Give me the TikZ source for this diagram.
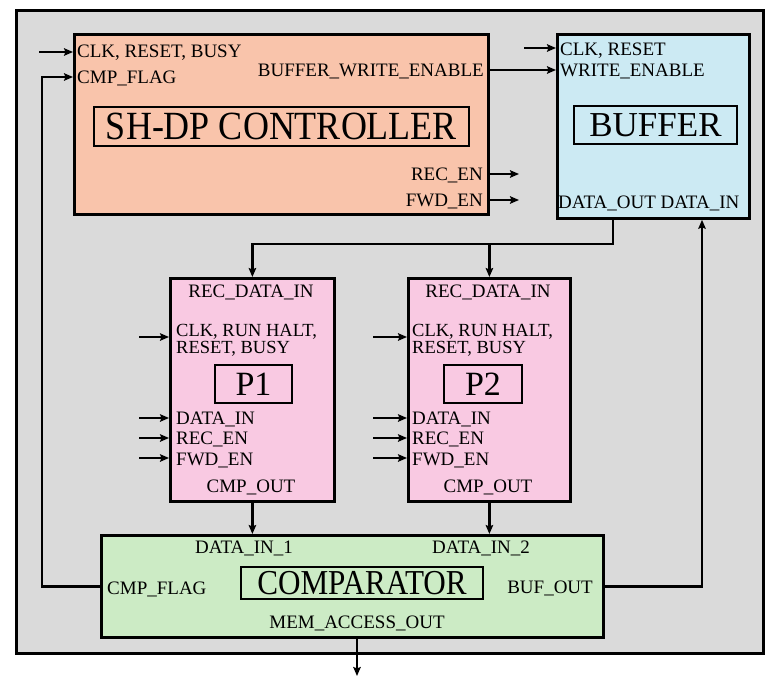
\documentclass[tikz,border=0pt]{standalone}
\usepackage{fontspec}
\usepackage{graphicx}
\setmainfont{Liberation Serif}
\usetikzlibrary{arrows.meta,calc}
\newcommand\smtxt{\fontsize{19}{19}\selectfont}
\newcommand\pstxt{\fontsize{18.5}{18.5}\selectfont}
\definecolor{bggray}{HTML}{DADADA}
\definecolor{ctrlfill}{HTML}{F9C4AB}
\definecolor{buffill}{HTML}{CCEAF3}
\definecolor{pfill}{HTML}{F9C9E2}
\definecolor{cmpfill}{HTML}{CCEBC5}
\tikzset{
  blk/.style={draw=black, line width=2.8pt, rectangle, inner sep=0pt, anchor=north west},
  inbox/.style={draw=black, line width=1.4pt, rectangle, inner sep=0pt},
  lbl/.style={inner sep=0pt, font=\smtxt},
  plbl/.style={inner sep=0pt, font=\pstxt},
  arr/.style={line width=2.7pt, -{Stealth[length=9pt,width=7.5pt,inset=1.5pt]}},
}
\begin{document}
\begin{tikzpicture}[x=1pt,y=-1pt]
\useasboundingbox (0,0) rectangle (765,677);
% outer panel
\node[blk, fill=bggray, minimum width=747, minimum height=643] (panel) at (15,9) {};
% blocks
\node[blk, fill=ctrlfill, minimum width=414, minimum height=180] (ctrl) at (73,33) {};
\node[blk, fill=buffill, minimum width=192, minimum height=184] (buf) at (556,33) {};
\node[blk, fill=pfill, minimum width=164, minimum height=223] (p1) at (169,277) {};
\node[blk, fill=pfill, minimum width=162, minimum height=223] (p2) at (407,277) {};
\node[blk, fill=cmpfill, minimum width=502, minimum height=102] (cmp) at (100,534) {};
% inner title boxes
\node[inbox, minimum width=375, minimum height=39] (ctrlt) at (281.5,126.5)
  {\scalebox{0.9}[1]{\fontsize{40}{40}\selectfont SH-DP CONTROLLER}};
\node[inbox, minimum width=163, minimum height=38] (buft) at (655.5,125)
  {\fontsize{35}{35}\selectfont BUFFER};
\node[inbox, minimum width=77, minimum height=38] (p1t) at (253.5,384)
  {\fontsize{34}{34}\selectfont P1};
\node[inbox, minimum width=78, minimum height=38] (p2t) at (483,384)
  {\fontsize{34}{34}\selectfont P2};
\node[inbox, minimum width=242, minimum height=32] (cmpt) at (362,583)
  {\scalebox{0.89}[1]{\fontsize{35}{35}\selectfont COMPARATOR}};
% controller texts
\node[lbl, anchor=base west] (c_clk) at (77,58) {CLK, RESET, BUSY};
\node[lbl, anchor=base west] (c_cmp) at (77,83) {CMP\_FLAG};
\node[lbl, anchor=base east] (c_bwe) at (484,76) {BUFFER\_WRITE\_ENABLE};
\node[lbl, anchor=base east] (c_rec) at (483,180) {REC\_EN};
\node[lbl, anchor=base east] (c_fwd) at (483,206) {FWD\_EN};
% buffer texts
\node[lbl, anchor=base west] (b_clk) at (560,56) {CLK, RESET};
\node[lbl, anchor=base west] (b_we) at (560,76) {WRITE\_ENABLE};
\node[lbl, anchor=base west] (b_io) at (558,208) {DATA\_OUT DATA\_IN};
% P1 texts
\node[lbl, anchor=base] (p1_rdi) at (251,297) {REC\_DATA\_IN};
\node[plbl, anchor=base west] (p1_clk) at (176,336) {CLK, RUN HALT,};
\node[plbl, anchor=base west] (p1_rst) at (176,353) {RESET, BUSY};
\node[lbl, anchor=base west] (p1_di) at (176,424) {DATA\_IN};
\node[lbl, anchor=base west] (p1_rec) at (176,444) {REC\_EN};
\node[lbl, anchor=base west] (p1_fwd) at (176,465) {FWD\_EN};
\node[lbl, anchor=base] (p1_co) at (251,492) {CMP\_OUT};
% P2 texts
\node[lbl, anchor=base] (p2_rdi) at (488,297) {REC\_DATA\_IN};
\node[plbl, anchor=base west] (p2_clk) at (412,336) {CLK, RUN HALT,};
\node[plbl, anchor=base west] (p2_rst) at (412,353) {RESET, BUSY};
\node[lbl, anchor=base west] (p2_di) at (412,424) {DATA\_IN};
\node[lbl, anchor=base west] (p2_rec) at (412,444) {REC\_EN};
\node[lbl, anchor=base west] (p2_fwd) at (412,465) {FWD\_EN};
\node[lbl, anchor=base] (p2_co) at (488,492) {CMP\_OUT};
% comparator texts
\node[lbl, anchor=base] (k_d1) at (244,553) {DATA\_IN\_1};
\node[lbl, anchor=base] (k_d2) at (481,553) {DATA\_IN\_2};
\node[lbl, anchor=base west] (k_cf) at (107,594) {CMP\_FLAG};
\node[lbl, anchor=base east] (k_bo) at (593,593) {BUF\_OUT};
\node[lbl, anchor=base] (k_mem) at (357,628) {MEM\_ACCESS\_OUT};
% helper coordinates
\coordinate (ctrlin) at (39,52);
\coordinate (fbx) at (42,77);
\coordinate (bwe) at (487,70);
\coordinate (bufin) at (524,48);
\coordinate (recout) at (519,174);
\coordinate (fwdout) at (519,200);
\coordinate (dox) at (613,244);
\coordinate (dix) at (702,586);
\coordinate (memend) at (357,676);
\coordinate (p1a) at (139,337);
\coordinate (p1b) at (139,418);
\coordinate (p1c) at (139,438);
\coordinate (p1d) at (139,458);
\coordinate (p2a) at (373,337);
\coordinate (p2b) at (373,418);
\coordinate (p2c) at (373,438);
\coordinate (p2d) at (373,458);
% connectors
\draw[arr] (ctrlin) -- (ctrlin -| ctrl.west);
\draw[arr] (cmp.west) -| (fbx) -- (fbx -| ctrl.west);
\draw[arr] (bwe -| ctrl.east) -- (bwe -| buf.west);
\draw[arr] (bufin) -- (bufin -| buf.west);
\draw[arr] (recout -| ctrl.east) -- (recout);
\draw[arr] (fwdout -| ctrl.east) -- (fwdout);
\draw[arr] (dox |- buf.south) -- (dox) -| (p1.north);
\draw[arr] (dox -| p2.north) -- (p2.north);
\draw[arr] (cmp.east) -| (dix |- buf.south);
\draw[arr] (p1a) -- (p1a -| p1.west);
\draw[arr] (p1b) -- (p1b -| p1.west);
\draw[arr] (p1c) -- (p1c -| p1.west);
\draw[arr] (p1d) -- (p1d -| p1.west);
\draw[arr] (p2a) -- (p2a -| p2.west);
\draw[arr] (p2b) -- (p2b -| p2.west);
\draw[arr] (p2c) -- (p2c -| p2.west);
\draw[arr] (p2d) -- (p2d -| p2.west);
\draw[arr] (p1.south) -- (p1.south |- cmp.north);
\draw[arr] (p2.south) -- (p2.south |- cmp.north);
\draw[arr] (memend |- cmp.south) -- (memend);
\end{tikzpicture}
\end{document}
